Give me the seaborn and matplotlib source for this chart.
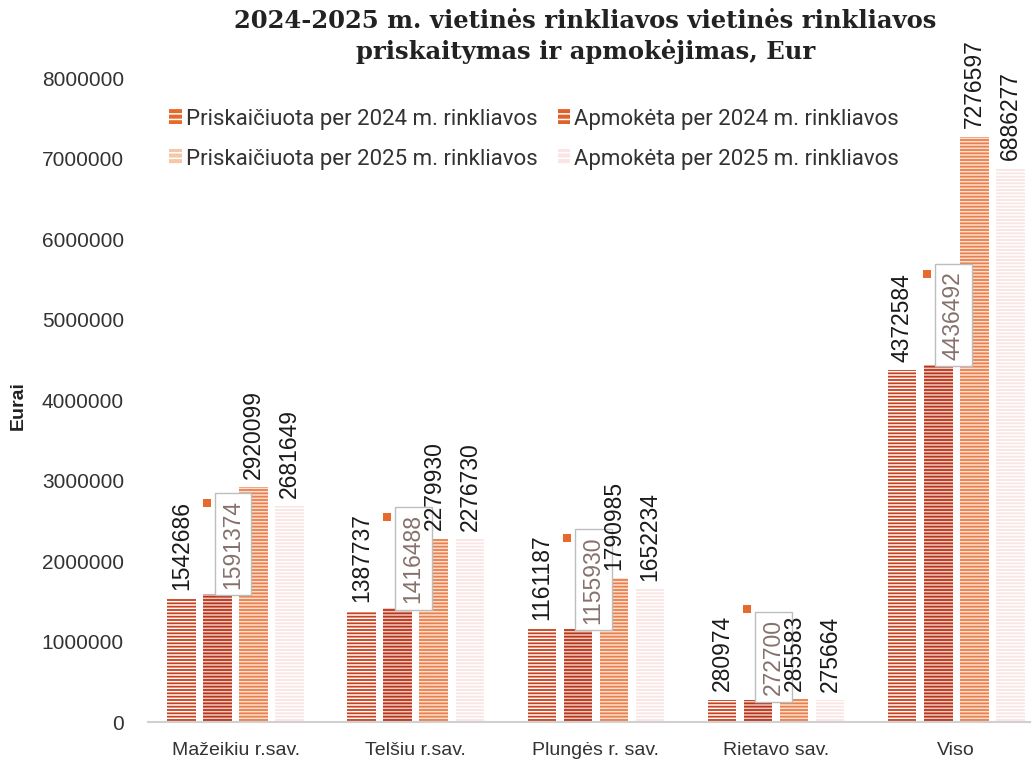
import matplotlib
matplotlib.use("Agg")
import matplotlib.pyplot as plt
import matplotlib.transforms as mtransforms
from matplotlib.patches import Patch
import numpy as np
import pandas as pd
import seaborn as sns

# ---- data ----
categories = ["Mažeikiu r.sav.", "Telšiu r.sav.", "Plungės r. sav.", "Rietavo sav.", "Viso"]
series_names = [
    "Priskaičiuota per 2024 m. rinkliavos",
    "Apmokėta per 2024 m. rinkliavos",
    "Priskaičiuota per 2025 m. rinkliavos",
    "Apmokėta per 2025 m. rinkliavos",
]
priskaiciuota_2024 = [1542686, 1387737, 1161187, 280974, 4372584]
apmoketa_2024 = [1591374, 1416488, 1155930, 272700, 4436492]
priskaiciuota_2025 = [2920099, 2279930, 1790985, 285583, 7276597]
apmoketa_2025 = [2681649, 2276730, 1652234, 275664, 6886277]
yticks = [0, 1000000, 2000000, 3000000, 4000000, 5000000, 6000000, 7000000, 8000000]

title = "2024-2025 m. vietinės rinkliavos vietinės rinkliavos\npriskaitymas ir apmokėjimas, Eur"

series_values = [priskaiciuota_2024, apmoketa_2024, priskaiciuota_2025, apmoketa_2025]
rows = []
for name, vals in zip(series_names, series_values):
    for cat, v in zip(categories, vals):
        rows.append({"Savivaldybė": cat, "Serija": name, "Eurai": v})
df = pd.DataFrame(rows)

face_colors = ["#c6411d", "#b5361b", "#e8804d", "#fbe4e4"]
legend_colors = ["#e8692c", "#e0612a", "#f6c6a8", "#fbe4e4"]

sns.set_theme(style="white")
plt.rcParams["font.family"] = ["Liberation Sans", "DejaVu Sans"]
plt.rcParams["hatch.linewidth"] = 1.1

fig = plt.figure(figsize=(10.32, 7.61), dpi=100)
ax = fig.add_axes([0.143, 0.051, 0.855, 0.846])

sns.barplot(data=df, x="Savivaldybė", y="Eurai", hue="Serija", order=categories,
            hue_order=series_names, palette=face_colors, width=0.8, gap=0.2,
            saturation=1, ax=ax, legend=False)

hatch_cols = ["white", "#f3c9c0", "#fbe0cf", "white"]
for i, cont in enumerate(ax.containers):
    for bar in cont:
        bar.set_hatch("-----")
        bar.set_edgecolor(hatch_cols[i])
        bar.set_linewidth(0)

ax.set_ylim(0, 8000000)
ax.set_xlim(-0.49, 4.41)
ax.set_yticks(yticks)
ax.set_yticklabels([str(t) for t in yticks], fontsize=15, color="#333333")
ax.tick_params(axis="x", labelsize=14, colors="#333333", length=0, pad=14)
ax.tick_params(axis="y", length=0, pad=17)
ax.set_xlabel("")
ax.set_ylabel("Eurai", fontsize=14, fontweight="bold", color="#222222")
ax.yaxis.set_label_coords(-0.137, 0.492)
for s in ["top", "right", "left"]:
    ax.spines[s].set_visible(False)
ax.spines["bottom"].set_color("#d0d0d0")
ax.spines["bottom"].set_linewidth(1.5)

# data labels
for i, cont in enumerate(ax.containers):
    for bar, v in zip(cont, series_values[i]):
        x = bar.get_x() + bar.get_width() / 2
        h = bar.get_height()
        if i == 1:
            ax.annotate(str(v), xy=(x, h), xytext=(11, 4), textcoords="offset points",
                        rotation=90, ha="center", va="bottom", fontsize=16.5, color="#86716c",
                        bbox=dict(boxstyle="square,pad=0.3", fc="white", ec="#bdbdbd", lw=1))
            tr = mtransforms.offset_copy(ax.transData, fig=fig, x=-11, y=91, units="dots")
            ax.plot([x], [h], marker="s", ms=6, color="#e8692c", transform=tr,
                    markeredgewidth=0, clip_on=False)
        else:
            ax.annotate(str(v), xy=(x, h), xytext=(0, 6), textcoords="offset points",
                        rotation=90, ha="center", va="bottom", fontsize=16.5, color="#1a1a1a")

order = [0, 2, 1, 3]
handles = [Patch(facecolor=legend_colors[k], edgecolor="white", hatch="---", linewidth=0) for k in order]
labels = [series_names[k] for k in order]
ax.legend(handles, labels, ncol=2, loc="upper left", bbox_to_anchor=(0.002, 0.984),
          frameon=False, handlelength=0.55, handleheight=0.65,
          handletextpad=0.2, columnspacing=0.9, labelspacing=0.85, labelcolor="#333333",
          prop={"family": ["Roboto", "DejaVu Sans"], "size": 16})

fig.text(0.567, 0.988, title, ha="center", va="top", fontsize=17.5, fontweight="bold",
         family=["DejaVu Serif", "DejaVu Sans"], color="#222222", linespacing=1.3)

fig.savefig("out.png", dpi=100)
